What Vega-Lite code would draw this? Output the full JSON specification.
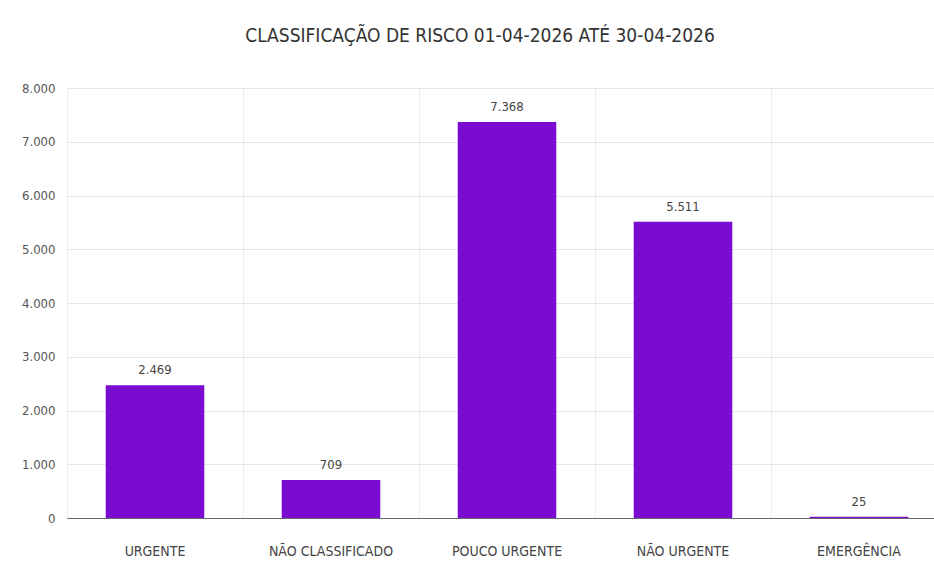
{
  "$schema": "https://vega.github.io/schema/vega-lite/v6.json",
  "width": 880,
  "height": 430,
  "autosize": {"type": "none"},
  "padding": {"left": 67, "top": 88, "right": 0, "bottom": 53},
  "background": "white",
  "config": {
    "locale": {"number": {"decimal": ",", "thousands": ".", "grouping": [3], "currency": ["R$", ""]}},
    "view": {"stroke": null},
    "font": "DejaVu Sans Condensed"
  },
  "title": {
    "text": "CLASSIFICAÇÃO DE RISCO 01-04-2026 ATÉ 30-04-2026",
    "fontSize": 19,
    "fontWeight": "normal",
    "color": "#333333",
    "font": "DejaVu Sans Condensed",
    "anchor": "middle",
    "dx": -27,
    "offset": 36
  },
  "data": {
    "values": [
      {"categoria": "URGENTE", "total": 2469},
      {"categoria": "NÃO CLASSIFICADO", "total": 709},
      {"categoria": "POUCO URGENTE", "total": 7368},
      {"categoria": "NÃO URGENTE", "total": 5511},
      {"categoria": "EMERGÊNCIA", "total": 25}
    ]
  },
  "encoding": {
    "x": {
      "field": "categoria",
      "type": "nominal",
      "sort": null,
      "scale": {"paddingInner": 0, "paddingOuter": 0},
      "axis": {
        "title": null,
        "labelAngle": 0,
        "labelFontSize": 14,
        "labelColor": "#444444",
        "labelPadding": 26,
        "ticks": false,
        "grid": true,
        "gridColor": "#eeeeee",
        "bandPosition": 0,
        "domainColor": "#666666",
        "domainWidth": 1
      }
    },
    "y": {
      "field": "total",
      "type": "quantitative",
      "scale": {"domain": [0, 8000]},
      "axis": {
        "title": null,
        "values": [0, 1000, 2000, 3000, 4000, 5000, 6000, 7000, 8000],
        "format": ",d",
        "labelFontSize": 13,
        "labelColor": "#555555",
        "labelPadding": 12,
        "ticks": false,
        "domain": false,
        "gridColor": "#e6e6e6"
      }
    }
  },
  "layer": [
    {
      "mark": {"type": "bar", "color": "#7a0bd0", "width": {"band": 0.56}}
    },
    {
      "mark": {"type": "text", "dy": -15, "fontSize": 13, "color": "#444444"},
      "encoding": {
        "text": {"field": "total", "type": "quantitative", "format": ",d"}
      }
    }
  ]
}
